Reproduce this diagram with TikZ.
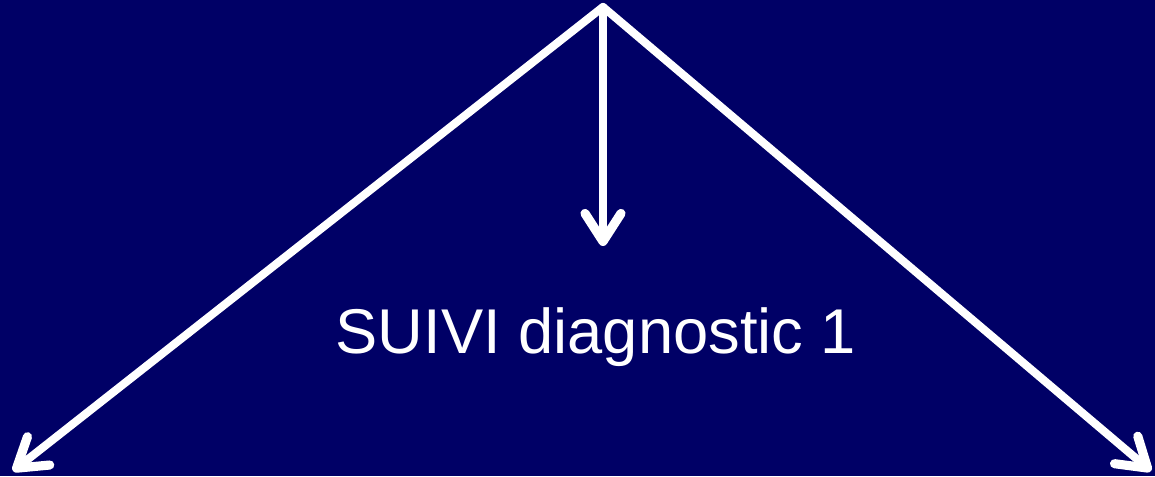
\documentclass[tikz,border=0pt]{standalone}
\usepackage{fontspec}
\setmainfont{Liberation Sans}
\usetikzlibrary{arrows.meta}
\definecolor{navy}{RGB}{0,0,102}
\begin{document}
\begin{tikzpicture}
        \tikzstyle{branch}=[white, line width=2.3pt, line cap=round, line join=round,
            -{Straight Barb[round, length=0.28cm, width=0.36cm, line width=2.6pt]}]

        \fill[navy] (0,0) rectangle (11.55,4.76);
        \useasboundingbox (0,0) rectangle (11.55,4.76);

        \coordinate (top) at (6.03,4.69);
        \coordinate (mid) at (6.03,2.30);
        \coordinate (left) at (0.13,0.05);
        \coordinate (right) at (11.51,0.05);

        \node[white, font=\fontsize{18}{20}\selectfont, anchor=base] (label) at (5.96,1.23) {SUIVI diagnostic 1};

        \draw[branch] (top) -- (left);
        \draw[branch] (top) -- (mid);
        \draw[branch] (top) -- (right);
    \end{tikzpicture}
\end{document}
